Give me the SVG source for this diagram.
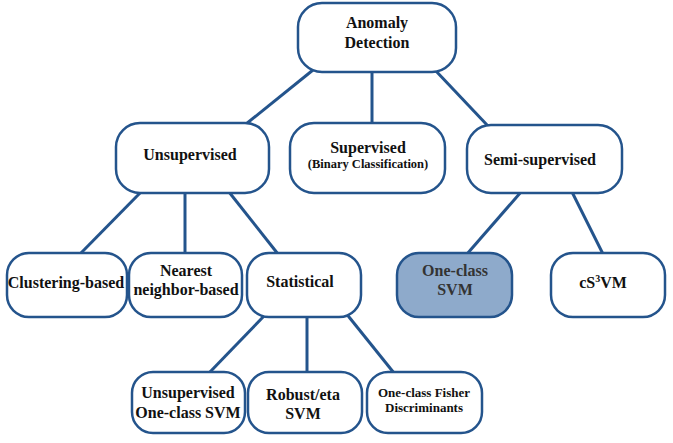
<svg xmlns="http://www.w3.org/2000/svg" width="673" height="443" viewBox="0 0 673 443">
<style>
.n{fill:#fff;stroke:#24548c;stroke-width:2.5}
.h{fill:#8eaacb;stroke:#24548c;stroke-width:2.5}
.c line{stroke:#24548c;stroke-width:3}
.s{font-size:12.5px}
.f{font-size:13px}
.g{fill:#333}
</style>
<rect width="673" height="443" fill="#fff"/>
<g class="c" id="connectors">
<line x1="313" y1="70" x2="246" y2="124"/>
<line x1="372" y1="72" x2="372" y2="124"/>
<line x1="435" y1="70" x2="488" y2="126"/>
<line x1="141" y1="192" x2="80" y2="254"/>
<line x1="185" y1="193" x2="185" y2="254"/>
<line x1="229" y1="192" x2="278" y2="254"/>
<line x1="521" y1="192" x2="467" y2="254"/>
<line x1="572" y1="192" x2="603" y2="254"/>
<line x1="265" y1="315" x2="209" y2="373"/>
<line x1="307" y1="317" x2="307" y2="373"/>
<line x1="345" y1="312" x2="394" y2="373"/>
</g>
<g font-family="Liberation Serif, Times New Roman, serif" font-weight="bold" font-size="16" text-anchor="middle" fill="#111">
<g id="anomaly"><rect class="n" x="298" y="3" width="158" height="69" rx="24"/><text x="377" y="28">Anomaly</text><text x="377" y="48">Detection</text></g>
<g id="unsupervised"><rect class="n" x="116" y="123" width="153" height="70" rx="24"/><text x="190" y="160">Unsupervised</text></g>
<g id="supervised"><rect class="n" x="290" y="123" width="155" height="70" rx="24"/><text x="368" y="153">Supervised</text><text class="s" x="368" y="168">(Binary Classification)</text></g>
<g id="semi"><rect class="n" x="467" y="125" width="155" height="68" rx="24"/><text x="540" y="165">Semi-supervised</text></g>
<g id="clustering"><rect class="n" x="7" y="253" width="120" height="64" rx="22"/><text x="66" y="288">Clustering-based</text></g>
<g id="nearest"><rect class="n" x="129" y="253" width="113" height="64" rx="22"/><text x="186" y="276">Nearest</text><text x="186" y="295">neighbor-based</text></g>
<g id="statistical"><rect class="n" x="247" y="253" width="114" height="64" rx="22"/><text x="300" y="287">Statistical</text></g>
<g id="oneclass"><rect class="h" x="397" y="253" width="115" height="64" rx="22"/><text class="g" x="455" y="276">One-class</text><text class="g" x="455" y="295">SVM</text></g>
<g id="cs3vm"><rect class="n" x="551" y="253" width="114" height="64" rx="22"/><text x="603" y="288">cS<tspan font-size="10" dy="-6">3</tspan><tspan dy="6">VM</tspan></text></g>
<g id="unsup-oc"><rect class="n" x="132" y="372" width="113" height="61" rx="21"/><text x="188" y="398">Unsupervised</text><text x="188" y="418">One-class SVM</text></g>
<g id="robust"><rect class="n" x="248" y="372" width="114" height="61" rx="21"/><text x="303" y="400">Robust/eta</text><text x="303" y="419">SVM</text></g>
<g id="fisher"><rect class="n" x="367" y="372" width="115" height="61" rx="21"/><text class="f" x="424" y="397">One-class Fisher</text><text class="f" x="424" y="412">Discriminants</text></g>
</g>
</svg>
